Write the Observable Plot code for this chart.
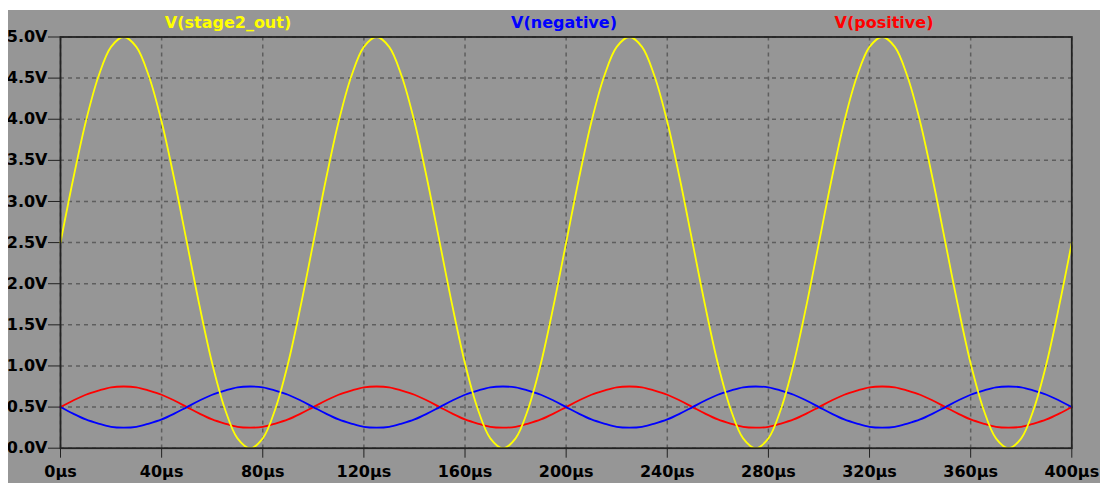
<!DOCTYPE html>
<html>
<head>
<meta charset="utf-8">
<script src="https://cdn.jsdelivr.net/npm/d3@7"></script>
<script src="https://cdn.jsdelivr.net/npm/@observablehq/plot@0.6"></script>
<style>
  html, body { margin: 0; padding: 0; background: #ffffff; }
  #panel { position: absolute; left: 8px; top: 10px; width: 1092px; height: 473px; background: #969696; overflow: hidden; }
  .lbl { position: absolute; top: 3px; font-family: "DejaVu Sans", sans-serif; font-weight: bold; font-size: 16px; transform: translateX(-50%); white-space: nowrap; }
  #chart { position: absolute; left: 0; top: 0; }
</style>
</head>
<body>
<div id="panel">
  <div id="chart"></div>
</div>
<script>
// Time (µs)
const time = [
  0, 5, 10, 15, 20, 25, 30, 35, 40, 45, 50, 55, 60, 65, 70, 75, 80, 85, 90, 95,
  100, 105, 110, 115, 120, 125, 130, 135, 140, 145, 150, 155, 160, 165, 170, 175, 180, 185, 190, 195,
  200, 205, 210, 215, 220, 225, 230, 235, 240, 245, 250, 255, 260, 265, 270, 275, 280, 285, 290, 295,
  300, 305, 310, 315, 320, 325, 330, 335, 340, 345, 350, 355, 360, 365, 370, 375, 380, 385, 390, 395,
  400
];
// V(stage2_out)
const stage2Out = [
  2.50, 3.27, 3.97, 4.52, 4.88, 5.00, 4.88, 4.52, 3.97, 3.27, 2.50, 1.73, 1.03, 0.48, 0.12, 0.00, 0.12, 0.48, 1.03, 1.73,
  2.50, 3.27, 3.97, 4.52, 4.88, 5.00, 4.88, 4.52, 3.97, 3.27, 2.50, 1.73, 1.03, 0.48, 0.12, 0.00, 0.12, 0.48, 1.03, 1.73,
  2.50, 3.27, 3.97, 4.52, 4.88, 5.00, 4.88, 4.52, 3.97, 3.27, 2.50, 1.73, 1.03, 0.48, 0.12, 0.00, 0.12, 0.48, 1.03, 1.73,
  2.50, 3.27, 3.97, 4.52, 4.88, 5.00, 4.88, 4.52, 3.97, 3.27, 2.50, 1.73, 1.03, 0.48, 0.12, 0.00, 0.12, 0.48, 1.03, 1.73,
  2.50
];
// V(negative)
const negative = [
  0.50, 0.42, 0.35, 0.30, 0.26, 0.25, 0.26, 0.30, 0.35, 0.42, 0.50, 0.58, 0.65, 0.70, 0.74, 0.75, 0.74, 0.70, 0.65, 0.58,
  0.50, 0.42, 0.35, 0.30, 0.26, 0.25, 0.26, 0.30, 0.35, 0.42, 0.50, 0.58, 0.65, 0.70, 0.74, 0.75, 0.74, 0.70, 0.65, 0.58,
  0.50, 0.42, 0.35, 0.30, 0.26, 0.25, 0.26, 0.30, 0.35, 0.42, 0.50, 0.58, 0.65, 0.70, 0.74, 0.75, 0.74, 0.70, 0.65, 0.58,
  0.50, 0.42, 0.35, 0.30, 0.26, 0.25, 0.26, 0.30, 0.35, 0.42, 0.50, 0.58, 0.65, 0.70, 0.74, 0.75, 0.74, 0.70, 0.65, 0.58,
  0.50
];
// V(positive)
const positive = [
  0.50, 0.58, 0.65, 0.70, 0.74, 0.75, 0.74, 0.70, 0.65, 0.58, 0.50, 0.42, 0.35, 0.30, 0.26, 0.25, 0.26, 0.30, 0.35, 0.42,
  0.50, 0.58, 0.65, 0.70, 0.74, 0.75, 0.74, 0.70, 0.65, 0.58, 0.50, 0.42, 0.35, 0.30, 0.26, 0.25, 0.26, 0.30, 0.35, 0.42,
  0.50, 0.58, 0.65, 0.70, 0.74, 0.75, 0.74, 0.70, 0.65, 0.58, 0.50, 0.42, 0.35, 0.30, 0.26, 0.25, 0.26, 0.30, 0.35, 0.42,
  0.50, 0.58, 0.65, 0.70, 0.74, 0.75, 0.74, 0.70, 0.65, 0.58, 0.50, 0.42, 0.35, 0.30, 0.26, 0.25, 0.26, 0.30, 0.35, 0.42,
  0.50
];
const xTicks = [0, 40, 80, 120, 160, 200, 240, 280, 320, 360, 400];
const yTicks = [0, 0.5, 1, 1.5, 2, 2.5, 3, 3.5, 4, 4.5, 5];
const seriesNames = ["V(stage2_out)", "V(negative)", "V(positive)"];
const seriesColors = ["#ffff00", "#0000ff", "#ff0000"];
const labelCenters = [220, 556, 876]; // px within panel

const chart = Plot.plot({
  width: 1092,
  height: 473,
  marginLeft: 52,
  marginTop: 26.5,
  marginRight: 28.7,
  marginBottom: 35.3,
  style: { background: "transparent", fontFamily: "DejaVu Sans, sans-serif", fontWeight: "bold", fontSize: "16px", color: "#000", overflow: "visible" },
  x: { domain: [0, 400], ticks: xTicks },
  y: { domain: [0, 5], ticks: yTicks },
  marks: [
    Plot.gridX(xTicks, { stroke: "#5e5e5e", strokeOpacity: 1, strokeWidth: 1.5, strokeDasharray: "4,4" }),
    Plot.gridY(yTicks, { stroke: "#5e5e5e", strokeOpacity: 1, strokeWidth: 1.5, strokeDasharray: "4,4" }),
    Plot.axisX(xTicks, { tickSize: 10, tickPadding: 7, tickFormat: d => d + "µs", stroke: "#222", fill: "#000", fontSize: 16, fontWeight: "bold" }),
    Plot.axisY(yTicks, { tickSize: 12, tickPadding: 1, tickFormat: d => d.toFixed(1) + "V", stroke: "#222", fill: "#000", fontSize: 16, fontWeight: "bold" }),
    Plot.line(time, { x: time, y: positive, stroke: seriesColors[2], strokeWidth: 1.8, curve: "catmull-rom" }),
    Plot.line(time, { x: time, y: negative, stroke: seriesColors[1], strokeWidth: 1.8, curve: "catmull-rom" }),
    Plot.line(time, { x: time, y: stage2Out, stroke: seriesColors[0], strokeWidth: 1.8, curve: "catmull-rom" }),
    Plot.frame({ stroke: "#222", strokeWidth: 1.8 })
  ]
});
document.getElementById("chart").appendChild(chart);

const panel = document.getElementById("panel");
seriesNames.forEach((name, i) => {
  const d = document.createElement("div");
  d.className = "lbl";
  d.textContent = name;
  d.style.left = labelCenters[i] + "px";
  d.style.color = seriesColors[i];
  panel.appendChild(d);
});
</script>
</body>
</html>
